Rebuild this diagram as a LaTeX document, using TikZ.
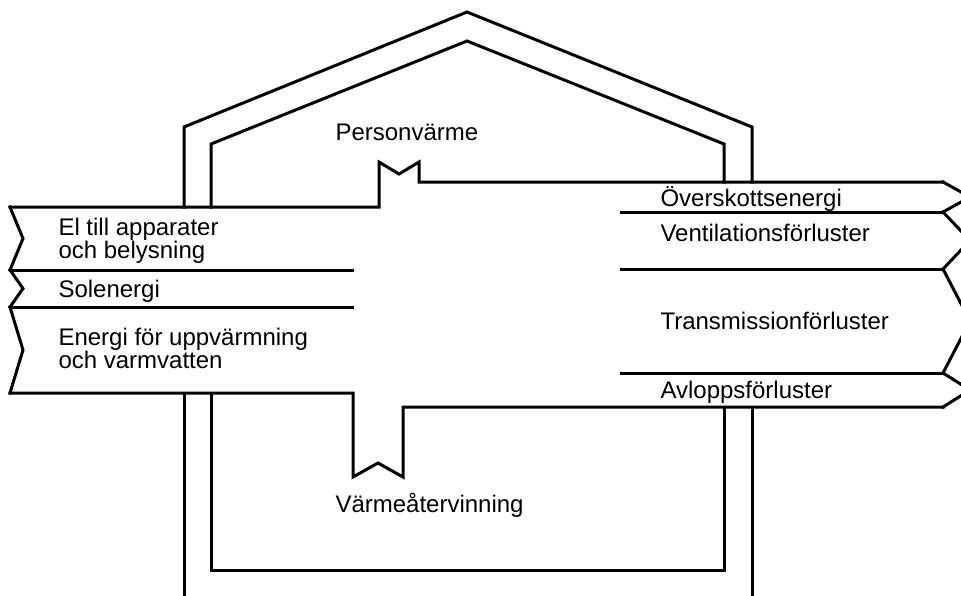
\documentclass[tikz,border=0pt]{standalone}
\usepackage{fontspec}
\setmainfont{Liberation Sans}
\usetikzlibrary{positioning}

\begin{document}
\begin{tikzpicture}[x=1pt, y=-1pt, line width=3pt, line cap=rect,
    every node/.style={anchor=base west, inner sep=0pt, align=left,
      font=\fontsize{24}{22.5}\selectfont}]
    \useasboundingbox (0,0) rectangle (961,595);
    \clip (0,0) rectangle (961,595);
    % house walls
    \draw (184,207) -- (184,127) -- (467,12) -- (752,127) -- (752,182);
    \draw (211,207) -- (211,144) -- (467,41) -- (724,144) -- (724,182);
    \draw (184,393) -- (184,600);
    \draw (752,407) -- (752,600);
    \draw (211,393) -- (211,570) -- (724,570) -- (724,407);
    % energy flow
    \draw (10,207) -- (379,207) -- (379,162) -- (399,174) -- (419,162)
      -- (419,182) -- (943,182);
    \draw (10,393) -- (353,393) -- (353,477) -- (378,463) -- (403,477)
      -- (403,407) -- (943,407);
    \foreach \y in {270,307}
      \draw (10,\y) -- (352,\y);
    \foreach \y in {212,269,373}
      \draw (621,\y) -- (943,\y);
    \foreach \a/\b in {207/270, 270/307, 307/393}
      \draw (10,\a) -- (23,{(\a+\b)/2}) -- (10,\b);
    \foreach \a/\b in {182/212, 212/269, 269/373, 373/407}
      \draw (943,\a) -- (970,{(\a+\b)/2}) -- (943,\b);
    % labels
    \node (el) at (57,258) {El till apparater\\och belysning};
    \node (sol) at (57,297) {Solenergi};
    \node (energi) at (57,368) {Energi för uppvärmning\\och varmvatten};
    \node (over) at (659,206) {Överskottsenergi};
    \node (vent) at (659,241) {Ventilationsförluster};
    \node (trans) at (659,329) {Transmissionförluster};
    \node (avlopp) at (659,398) {Avloppsförluster};
    \node (person) at (334,140) {Personvärme};
    \node (atervinn) at (334,512) {Värmeåtervinning};
\end{tikzpicture}
\end{document}
